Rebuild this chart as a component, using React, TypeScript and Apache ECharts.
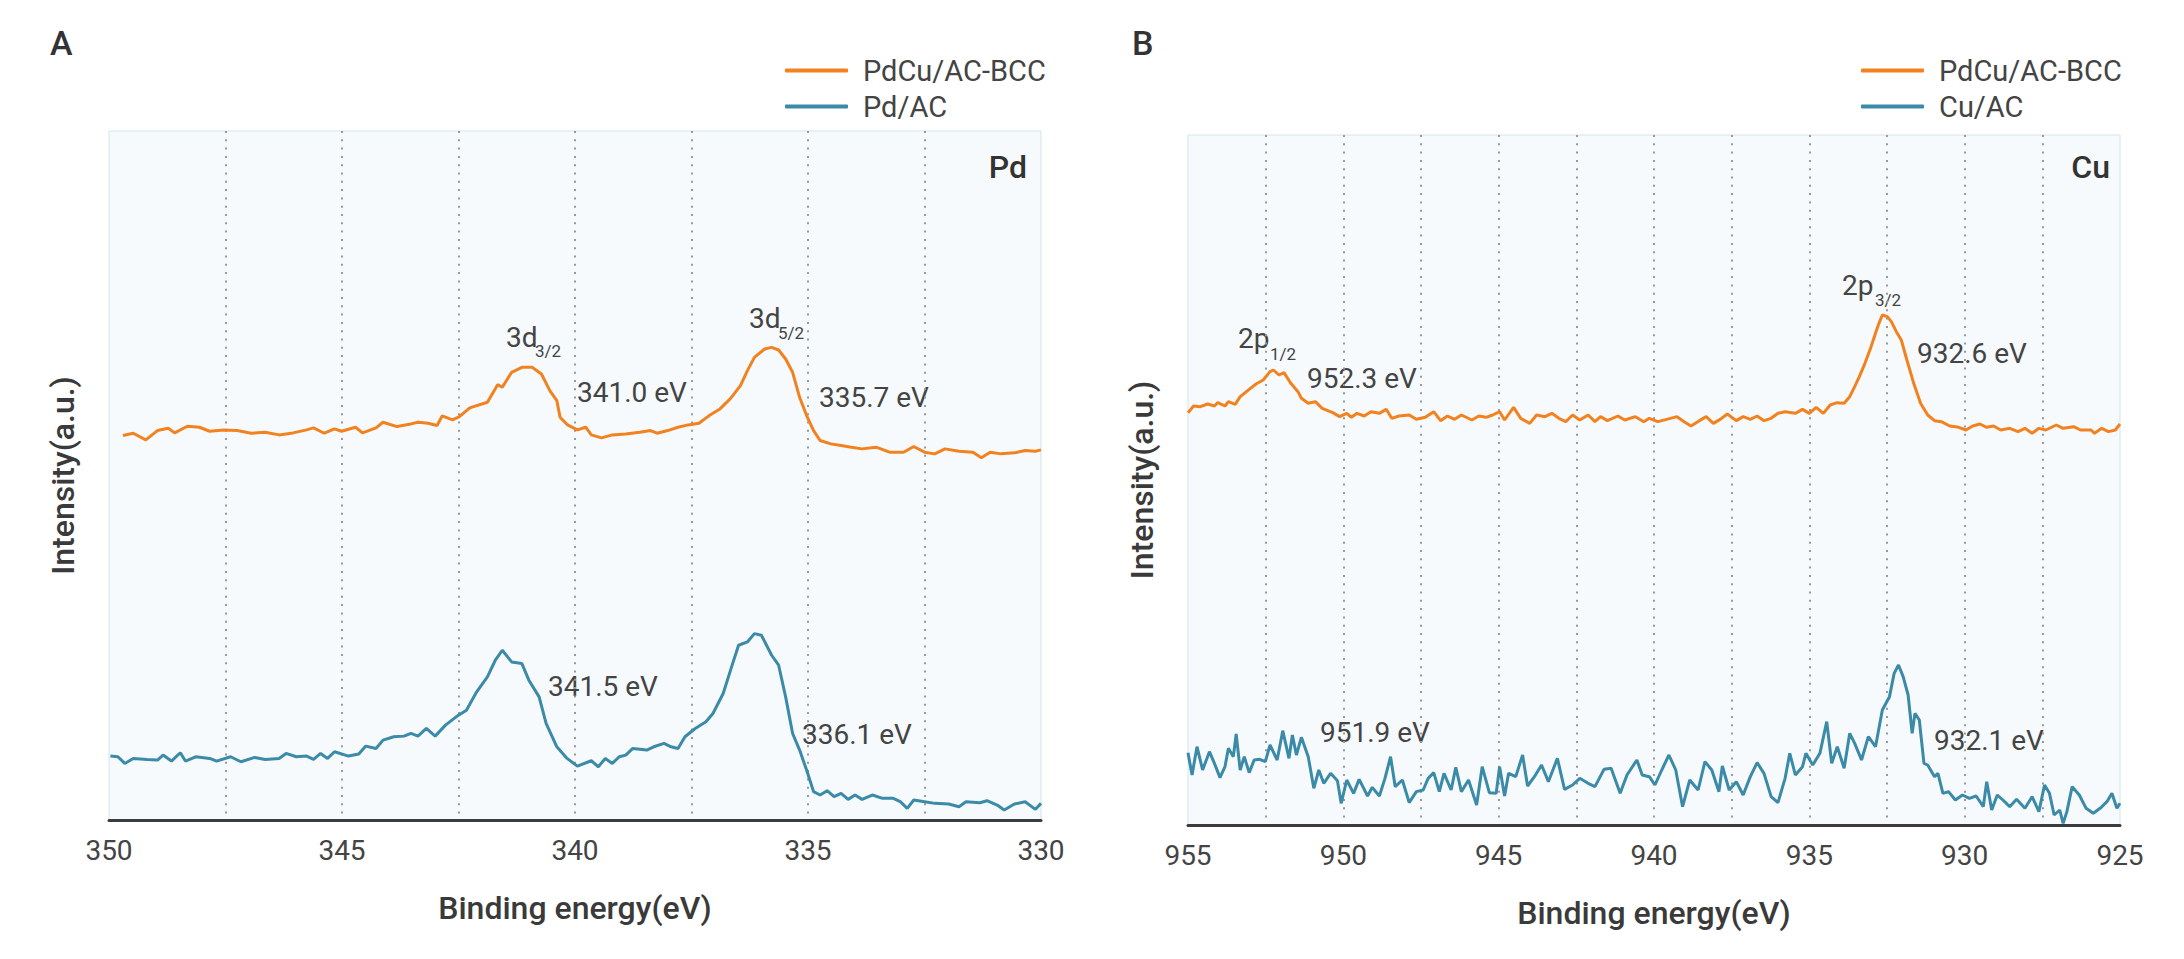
import React, { useEffect, useRef } from "react";
import * as echarts from "echarts";

// ---------- data (binding energy eV, intensity a.u.) ----------
const pdTicks = [350, 345, 340, 335, 330];
const cuTicks = [955, 950, 945, 940, 935, 930, 925];

const pdcuPd: [number, number][] = [
  [349.70,115.5],[349.48,116.2],[349.21,114.2],[348.96,117.0],[348.73,117.7],[348.59,116.3],[348.32,118.3],[348.06,118.0],[347.84,116.8],[347.54,117.2],[347.25,117.0],[346.95,116.2],[346.65,116.5],[346.35,115.7],[346.05,116.3],[345.76,117.2],[345.61,117.8],[345.38,116.2],[345.16,117.5],[345.01,116.8],[344.71,118.0],[344.56,116.3],[344.27,117.8],[344.12,119.5],[343.82,118.2],[343.52,119.0],[343.37,119.5],[343.15,119.2],[342.96,118.5],[342.85,121.4],[342.63,120.2],[342.48,121.2],[342.26,123.8],[341.88,125.5],[341.66,130.8],[341.56,130.0],[341.36,134.5],[341.14,136.0],[340.92,136.0],[340.72,134.0],[340.54,129.0],[340.39,126.0],[340.32,121.0],[340.17,118.8],[339.95,117.2],[339.77,118.0],[339.65,115.7],[339.43,114.8],[339.20,115.7],[338.91,116.0],[338.61,116.5],[338.38,117.0],[338.24,116.2],[338.01,117.0],[337.79,118.0],[337.57,118.7],[337.34,119.2],[337.12,121.5],[336.89,123.5],[336.67,126.5],[336.45,130.5],[336.30,135.0],[336.15,139.0],[335.93,141.5],[335.78,142.0],[335.63,141.2],[335.48,138.5],[335.33,134.5],[335.18,127.0],[335.03,121.5],[334.88,117.0],[334.74,114.0],[334.51,113.0],[334.29,112.5],[334.07,112.0],[333.84,111.5],[333.54,112.0],[333.25,110.5],[332.95,110.5],[332.73,112.2],[332.50,110.5],[332.28,110.0],[332.06,111.5],[331.76,110.8],[331.46,110.5],[331.28,108.8],[331.09,110.5],[330.86,110.0],[330.57,110.3],[330.34,111.0],[330.12,110.8],[330.00,111.2]
];

const pdAC: [number, number][] = [
  [349.97,19.2],[349.81,19.0],[349.66,17.0],[349.48,18.5],[349.18,18.2],[348.96,18.0],[348.84,19.5],[348.66,17.7],[348.47,20.2],[348.36,17.7],[348.14,19.0],[347.84,18.5],[347.69,17.7],[347.39,19.0],[347.17,17.5],[346.87,18.8],[346.65,18.2],[346.35,18.5],[346.20,20.0],[345.98,19.0],[345.76,19.2],[345.61,18.2],[345.46,20.0],[345.31,18.5],[345.16,20.5],[344.86,19.2],[344.64,19.8],[344.49,22.2],[344.27,21.5],[344.12,24.0],[343.89,25.0],[343.67,25.2],[343.52,26.0],[343.37,25.2],[343.19,27.5],[343.00,25.2],[342.78,28.5],[342.55,31.0],[342.33,33.0],[342.11,38.5],[341.88,43.0],[341.71,48.0],[341.56,51.0],[341.36,47.5],[341.14,47.0],[340.99,42.0],[340.77,37.0],[340.62,29.0],[340.39,22.0],[340.17,18.5],[339.95,16.2],[339.65,17.8],[339.50,16.0],[339.35,18.5],[339.20,17.0],[339.05,19.0],[338.91,19.5],[338.76,21.5],[338.46,21.0],[338.31,22.0],[338.09,23.0],[337.94,22.0],[337.79,21.5],[337.64,25.0],[337.42,27.5],[337.19,29.5],[337.04,32.0],[336.82,38.0],[336.64,46.0],[336.49,52.5],[336.30,53.5],[336.15,56.0],[336.00,55.5],[335.78,49.5],[335.63,46.5],[335.48,37.0],[335.33,26.0],[335.18,21.0],[335.03,15.0],[334.88,8.5],[334.74,7.5],[334.59,8.8],[334.44,7.0],[334.29,8.0],[334.14,6.2],[333.99,7.5],[333.84,6.2],[333.62,7.5],[333.40,6.5],[333.17,6.5],[333.02,5.5],[332.87,3.5],[332.73,6.0],[332.50,5.5],[332.28,5.0],[331.98,4.8],[331.76,4.0],[331.61,5.5],[331.31,5.2],[331.16,5.8],[330.94,4.5],[330.79,3.0],[330.57,4.8],[330.34,5.5],[330.12,3.2],[330.00,5.0]
];

const pdcuCu: [number, number][] = [
  [955.00,123.7],[954.82,125.7],[954.60,125.5],[954.37,126.3],[954.15,125.7],[954.04,126.7],[953.81,125.7],[953.70,127.0],[953.48,126.2],[953.32,128.5],[953.03,130.7],[952.81,132.3],[952.58,133.5],[952.36,136.0],[952.25,136.5],[952.07,135.0],[951.91,135.7],[951.69,132.5],[951.46,130.0],[951.35,128.0],[951.13,126.5],[950.90,127.0],[950.68,125.0],[950.34,123.7],[950.12,122.5],[949.89,123.5],[949.74,122.3],[949.56,123.5],[949.33,122.7],[949.11,124.0],[948.84,123.5],[948.62,124.7],[948.44,122.0],[948.21,122.7],[947.88,123.0],[947.65,121.7],[947.36,122.3],[947.09,124.0],[946.87,121.3],[946.65,122.7],[946.42,121.7],[946.20,123.0],[945.86,121.5],[945.64,122.7],[945.41,122.3],[945.19,123.0],[944.97,124.0],[944.81,121.5],[944.52,125.3],[944.29,122.0],[944.00,120.5],[943.78,123.0],[943.51,122.5],[943.29,123.5],[943.06,122.0],[942.84,121.0],[942.62,123.0],[942.39,121.5],[942.12,123.0],[941.90,121.0],[941.72,122.5],[941.50,121.3],[941.16,122.7],[940.94,121.5],[940.60,122.5],[940.33,121.0],[940.15,122.0],[939.88,121.0],[939.59,121.7],[939.26,122.5],[939.03,121.0],[938.81,119.7],[938.54,121.3],[938.32,122.5],[938.09,120.5],[937.87,121.7],[937.64,123.3],[937.35,121.3],[937.13,122.5],[936.90,121.7],[936.68,122.7],[936.46,121.3],[936.23,122.0],[936.01,123.5],[935.78,124.0],[935.45,123.5],[935.22,124.7],[935.00,123.5],[934.78,125.3],[934.55,123.5],[934.33,126.0],[934.10,126.7],[933.88,126.5],[933.70,128.5],[933.54,131.5],[933.39,134.5],[933.21,138.5],[933.03,143.0],[932.87,147.5],[932.76,150.5],[932.65,153.0],[932.49,152.5],[932.36,151.0],[932.20,148.0],[932.04,145.5],[931.86,139.5],[931.64,132.5],[931.42,126.5],[931.19,123.0],[930.97,121.3],[930.75,121.0],[930.48,119.7],[930.19,119.3],[929.96,118.5],[929.74,119.7],[929.51,120.3],[929.29,119.3],[929.07,119.7],[928.84,118.5],[928.55,119.0],[928.28,118.0],[928.06,119.0],[927.83,117.5],[927.61,119.0],[927.39,118.5],[927.05,120.0],[926.83,119.0],[926.49,119.5],[926.27,118.5],[925.93,118.5],[925.82,117.5],[925.59,119.0],[925.37,118.0],[925.15,118.5],[925.00,120.3]
];

const cuAC: [number, number][] = [
  [955.00,21.7],[954.87,15.0],[954.71,23.5],[954.53,16.5],[954.31,22.0],[954.15,18.5],[953.97,14.2],[953.81,17.5],[953.70,23.0],[953.54,20.5],[953.45,27.3],[953.32,16.5],[953.19,20.5],[953.03,15.7],[952.87,19.5],[952.69,19.7],[952.51,19.0],[952.36,24.0],[952.13,19.5],[951.95,28.3],[951.75,20.0],[951.64,27.0],[951.51,21.0],[951.35,26.3],[951.13,20.5],[950.95,11.0],[950.79,16.5],[950.63,12.5],[950.41,15.5],[950.19,13.3],[950.07,6.5],[949.89,13.5],[949.67,9.5],[949.49,13.7],[949.22,8.7],[949.07,11.3],[948.84,8.7],[948.66,14.0],[948.48,20.5],[948.33,11.5],[948.10,13.5],[947.88,6.7],[947.65,10.0],[947.43,10.5],[947.27,14.0],[947.09,15.7],[946.91,10.0],[946.76,15.5],[946.53,10.5],[946.38,17.3],[946.20,10.0],[945.97,13.5],[945.71,6.0],[945.53,17.5],[945.30,9.7],[945.08,9.5],[944.97,17.5],[944.81,8.7],[944.68,15.5],[944.45,14.5],[944.23,21.0],[944.07,11.7],[943.85,14.5],[943.62,18.0],[943.40,13.0],[943.11,20.0],[942.88,10.7],[942.62,12.0],[942.39,14.0],[942.12,12.5],[941.90,11.5],[941.61,16.7],[941.38,17.0],[941.09,9.5],[940.87,15.0],[940.55,19.5],[940.38,15.0],[940.15,14.5],[939.97,12.0],[939.75,16.5],[939.52,21.0],[939.30,16.5],[939.08,5.5],[938.85,13.5],[938.58,10.5],[938.36,19.0],[938.14,16.5],[937.91,10.0],[937.80,17.7],[937.58,10.5],[937.35,13.0],[937.13,9.0],[936.90,14.5],[936.68,18.7],[936.46,15.5],[936.23,8.5],[936.01,6.7],[935.78,14.0],[935.63,21.5],[935.45,15.0],[935.22,17.5],[935.11,21.5],[934.89,18.0],[934.66,21.5],[934.44,31.0],[934.28,18.5],[934.10,23.5],[933.88,17.0],[933.70,27.5],[933.54,24.5],[933.32,19.5],[933.10,26.5],[932.87,23.5],[932.65,34.5],[932.42,38.5],[932.27,45.5],[932.13,48.0],[931.98,44.5],[931.82,39.0],[931.69,27.5],[931.60,33.5],[931.46,31.5],[931.31,18.5],[931.19,18.0],[930.97,14.5],[930.86,15.5],[930.70,9.5],[930.52,10.0],[930.30,7.5],[930.07,9.0],[929.85,8.0],[929.63,8.7],[929.40,5.5],[929.29,13.0],[929.13,4.5],[928.95,9.0],[928.77,7.5],[928.55,5.5],[928.33,7.7],[928.06,5.0],[927.83,8.5],[927.61,4.0],[927.43,12.0],[927.27,9.5],[927.12,3.0],[926.94,4.5],[926.83,0.5],[926.71,4.0],[926.54,11.5],[926.31,9.0],[926.09,5.0],[925.86,3.5],[925.64,5.0],[925.42,7.0],[925.26,9.5],[925.10,5.0],[925.00,6.5]
];

const seriesNamesA = ["PdCu/AC-BCC", "Pd/AC"];
const seriesNamesB = ["PdCu/AC-BCC", "Cu/AC"];

const ORANGE = "#f2821f";
const BLUE = "#3b8aa7";
const TEXT = "#444444";
const FONT = "Roboto";

const tickFormatter = (v: number) => (Math.abs(v % 5) < 1e-6 ? String(v) : "");

function makeXAxis(gridIndex: number, min: number, max: number) {
  return {
    gridIndex,
    type: "value",
    inverse: true,
    min,
    max,
    interval: 2.5,
    name: "Binding energy(eV)",
    nameLocation: "middle",
    nameGap: 72,
    nameTextStyle: { fontSize: 32, fontWeight: 500, color: "#3a3a3a", fontFamily: FONT },
    axisLine: { show: true, onZero: false, lineStyle: { color: "#3c3c3c", width: 3 } },
    axisTick: { show: false },
    axisLabel: { formatter: tickFormatter, fontSize: 28, color: TEXT, margin: 16, fontFamily: FONT },
    splitLine: {
      show: true,
      showMinLine: false,
      showMaxLine: false,
      lineStyle: { type: [2, 6.3], color: "#999999", width: 2 },
    },
  };
}

function makeYAxis(gridIndex: number) {
  return {
    gridIndex,
    type: "value",
    min: 0,
    max: 207,
    name: "Intensity(a.u.)",
    nameLocation: "middle",
    nameRotate: 90,
    nameGap: 30,
    nameTextStyle: { fontSize: 32, fontWeight: 500, color: "#3a3a3a", fontFamily: FONT },
    axisLine: { show: false },
    axisTick: { show: false },
    axisLabel: { show: false },
    splitLine: { show: false },
  };
}

function txt(text: string, x: number, y: number, fontSize: number, opts: any = {}) {
  return {
    type: "text",
    x,
    y,
    silent: true,
    style: {
      text,
      fontSize,
      fontFamily: FONT,
      fontWeight: opts.fontWeight || 400,
      fill: opts.fill || TEXT,
      align: opts.align || "left",
      verticalAlign: "middle",
    },
  };
}

export default function App() {
  const ref = useRef<HTMLDivElement>(null);
  useEffect(() => {
    if (!ref.current) return;
    const chart = echarts.init(ref.current, null, { renderer: "svg" });
    const legendCommon = {
      orient: "vertical",
      itemWidth: 63,
      itemHeight: 4,
      icon: "roundRect",
      itemGap: 7,
      textStyle: { fontSize: 29, color: TEXT, fontFamily: FONT, padding: [0, 0, 0, 10] },
    };
    chart.setOption({
      animation: false,
      textStyle: { fontFamily: FONT },
      grid: [
        { left: 109, top: 131, width: 932, height: 689, show: true, backgroundColor: "#f6fafd", borderColor: "#d3e4eb", borderWidth: 1 },
        { left: 1188, top: 135, width: 932, height: 690, show: true, backgroundColor: "#f6fafd", borderColor: "#d3e4eb", borderWidth: 1 },
      ],
      xAxis: [makeXAxis(0, 330, 350), makeXAxis(1, 925, 955)],
      yAxis: [makeYAxis(0), makeYAxis(1)],
      legend: [
        { ...legendCommon, data: seriesNamesA, left: 780, top: 51 },
        { ...legendCommon, data: seriesNamesB, left: 1856, top: 51 },
      ],
      series: [
        { name: seriesNamesA[0], type: "line", xAxisIndex: 0, yAxisIndex: 0, data: pdcuPd, showSymbol: false, color: ORANGE, lineStyle: { width: 3, color: ORANGE } },
        { name: seriesNamesA[1], type: "line", xAxisIndex: 0, yAxisIndex: 0, data: pdAC, showSymbol: false, color: BLUE, lineStyle: { width: 3, color: BLUE } },
        { name: seriesNamesB[0], type: "line", xAxisIndex: 1, yAxisIndex: 1, data: pdcuCu, showSymbol: false, color: ORANGE, lineStyle: { width: 3, color: ORANGE } },
        { name: seriesNamesB[1], type: "line", xAxisIndex: 1, yAxisIndex: 1, data: cuAC, showSymbol: false, color: BLUE, lineStyle: { width: 3, color: BLUE } },
      ],
      graphic: [
        txt("A", 50, 43, 34, { fontWeight: 500, fill: "#333" }),
        txt("B", 1132, 43, 34, { fontWeight: 500, fill: "#333" }),
        txt("Pd", 1027, 167, 32, { fontWeight: 500, fill: "#333", align: "right" }),
        txt("Cu", 2110, 167, 32, { fontWeight: 500, fill: "#333", align: "right" }),
        // Panel A annotations
        txt("3d", 506, 337, 28),
        txt("3/2", 535, 351, 17),
        txt("341.0 eV", 577, 392, 28),
        txt("3d", 749, 318, 28),
        txt("5/2", 778, 333, 17),
        txt("335.7 eV", 819, 397, 28),
        txt("341.5 eV", 548, 686, 28),
        txt("336.1 eV", 802, 734, 28),
        // Panel B annotations
        txt("2p", 1238, 338, 28),
        txt("1/2", 1270, 354, 17),
        txt("952.3 eV", 1307, 378, 28),
        txt("2p", 1842, 285, 28),
        txt("3/2", 1875, 300, 17),
        txt("932.6 eV", 1917, 353, 28),
        txt("951.9 eV", 1320, 732, 28),
        txt("932.1 eV", 1934, 740, 28),
      ],
    });
    return () => chart.dispose();
  }, []);
  return <div ref={ref} style={{ position: "absolute", left: 0, top: 0, width: 2184, height: 959 }} />;
}
